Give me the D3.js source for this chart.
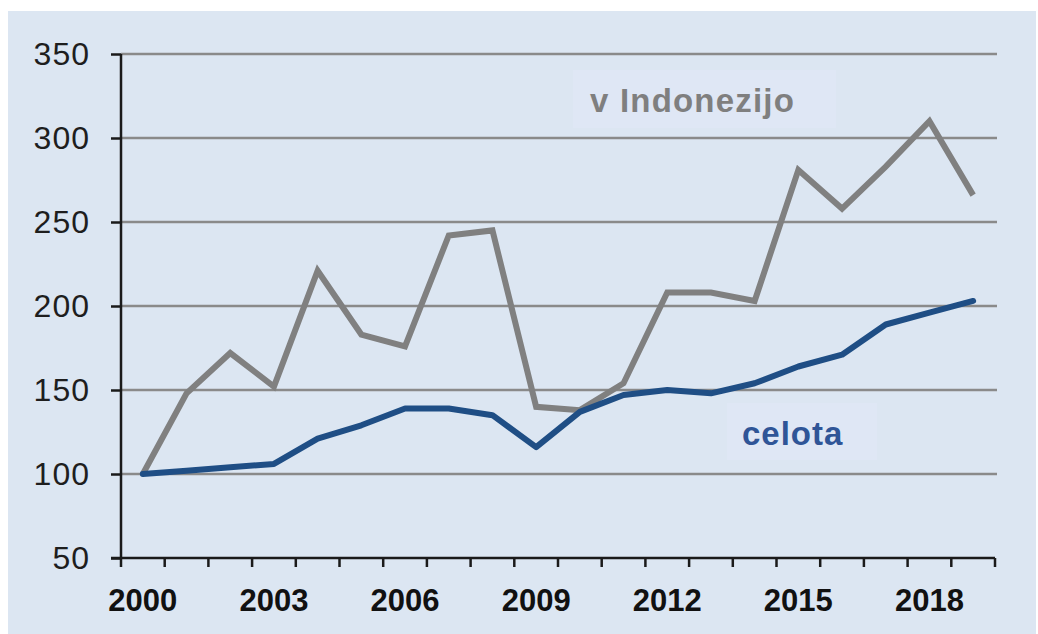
<!DOCTYPE html>
<html>
  <head>
    <script src="https://d3js.org/d3.v7.min.js"></script>
    <style>
      body { margin: 0; background-color: #ffffff; }
      text { font-family: 'Liberation Sans', Arial, sans-serif; }
    </style>
  </head>
  <body>
    <svg id="canvas" width="1038" height="634"></svg>
  </body>

  <script>
    // years on the category axis
    const years = d3.range(2000, 2020)
    // index 2000 = 100
    const indonesia = [100, 148, 172, 152, 221, 183, 176, 242, 245, 140,
                       138, 154, 208, 208, 203, 281, 258, 283, 310, 266]
    const total = [100, 102, 104, 106, 121, 129, 139, 139, 135, 116,
                   137, 147, 150, 148, 154, 164, 171, 189, 196, 203]
    const yTicks = [50, 100, 150, 200, 250, 300, 350]
    const xLabels = [2000, 2003, 2006, 2009, 2012, 2015, 2018]

    const svg = d3.select('#canvas')

    // panel background
    svg.append('rect')
      .attr('x', 8).attr('y', 11)
      .attr('width', 1028).attr('height', 623)
      .attr('fill', '#dce6f2')

    const margin = { left: 121, right: 995, top: 54, bottom: 558 }

    const x = d3.scaleBand().domain(years).range([margin.left, margin.right])
    const xc = d => x(d) + x.bandwidth() / 2
    const y = d3.scaleLinear().domain([50, 350]).range([margin.bottom, margin.top])

    // gridlines
    svg.append('g')
      .selectAll('line')
      .data(yTicks.filter(t => t > 50))
      .join('line')
        .attr('x1', margin.left).attr('x2', margin.right + 2)
        .attr('y1', d => y(d)).attr('y2', d => y(d))
        .attr('stroke', '#8a8a8a')
        .attr('stroke-width', 2.5)

    // label boxes
    svg.append('rect')
      .attr('x', 573).attr('y', 70).attr('width', 263).attr('height', 58)
      .attr('fill', '#dfe7f5')
    svg.append('rect')
      .attr('x', 727).attr('y', 403).attr('width', 150).attr('height', 57)
      .attr('fill', '#dfe7f5')

    // y axis
    const yAxis = svg.append('g')
      .attr('transform', `translate(${margin.left},0)`)
      .call(d3.axisLeft(y).tickValues(yTicks).tickSize(10).tickPadding(21))
    yAxis.select('.domain').attr('stroke', '#1a1a1a').attr('stroke-width', 2.5)
      .attr('d', `M0,${margin.top}V${margin.bottom}`)
    yAxis.selectAll('.tick line').attr('stroke', '#1a1a1a').attr('stroke-width', 2.5)
    yAxis.selectAll('.tick text')
      .attr('font-size', 32)
      .attr('letter-spacing', 1)
      .attr('fill', '#1e1e1e')
      .attr('font-family', "'Liberation Sans', Arial, sans-serif")

    // x axis: ticks on the band edges, labels in the band centres
    const edges = years.map(d => x(d)).concat([margin.right])
    const xAxis = svg.append('g')
    xAxis.append('line')
      .attr('x1', margin.left - 10).attr('x2', margin.right)
      .attr('y1', margin.bottom).attr('y2', margin.bottom)
      .attr('stroke', '#1a1a1a').attr('stroke-width', 2.5)
    xAxis.selectAll('line.tick')
      .data(edges)
      .join('line')
        .attr('class', 'tick')
        .attr('x1', d => d).attr('x2', d => d)
        .attr('y1', margin.bottom).attr('y2', margin.bottom + 9)
        .attr('stroke', '#1a1a1a').attr('stroke-width', 2.5)
    xAxis.selectAll('text')
      .data(xLabels)
      .join('text')
        .attr('x', d => xc(d))
        .attr('y', 611)
        .attr('text-anchor', 'middle')
        .attr('font-size', 31)
        .attr('font-weight', 'bold')
        .attr('fill', '#111')
        .text(d => d)

    // lines
    const line = d3.line().x((d, i) => xc(years[i])).y(d => y(d))

    svg.append('path')
      .datum(indonesia)
      .attr('d', line)
      .attr('fill', 'none')
      .attr('stroke', '#808080')
      .attr('stroke-width', 6)
      .attr('stroke-linejoin', 'miter')

    svg.append('path')
      .datum(total)
      .attr('d', line)
      .attr('fill', 'none')
      .attr('stroke', '#1f4e85')
      .attr('stroke-width', 6)
      .attr('stroke-linejoin', 'round')
      .attr('stroke-linecap', 'round')

    // series labels
    svg.append('text')
      .attr('x', 590).attr('y', 112)
      .attr('font-size', 33).attr('font-weight', 'bold')
      .attr('letter-spacing', 1.2)
      .attr('fill', '#7f7f7f')
      .text('v Indonezijo')
    svg.append('text')
      .attr('x', 742).attr('y', 445)
      .attr('font-size', 33).attr('font-weight', 'bold')
      .attr('letter-spacing', 1)
      .attr('fill', '#2f5597')
      .text('celota')
  </script>
</html>
